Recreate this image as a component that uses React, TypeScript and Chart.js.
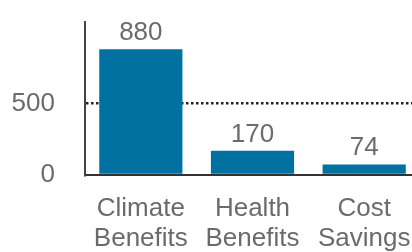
import React, { useEffect, useRef } from "react";
import { Chart, registerables } from "chart.js";

Chart.register(...registerables);

const categories: string[][] = [["Climate", "Benefits"], ["Health", "Benefits"], ["Cost", "Savings"]];
const values: number[] = [880, 170, 74];
const yTicks: number[] = [0, 500];
const refLineValue = 500;

const TEXT = "#6b6b6b";
const BAR = "#0071a0";
const FONT = "'Liberation Sans', Arial, sans-serif";

const labelPlugin = {
  id: "valueLabels",
  afterDatasetsDraw(chart: any) {
    const ctx = chart.ctx;
    const meta = chart.getDatasetMeta(0);
    ctx.save();
    ctx.font = `26px ${FONT}`;
    ctx.fillStyle = TEXT;
    ctx.textAlign = "center";
    ctx.textBaseline = "alphabetic";
    meta.data.forEach((bar: any, i: number) => {
      ctx.fillText(String(values[i]), bar.x, bar.y - 9);
    });
    ctx.restore();
  },
};

export default function App() {
  const ref = useRef<HTMLCanvasElement | null>(null);
  useEffect(() => {
    if (!ref.current) return;
    const chart = new Chart(ref.current, {
      type: "bar",
      data: {
        labels: categories,
        datasets: [
          {
            data: values,
            backgroundColor: BAR,
            categoryPercentage: 0.745,
            barPercentage: 1,
          },
        ],
      },
      options: {
        animation: false,
        responsive: false,
        layout: { padding: { top: 22, left: 0, right: 0, bottom: 0 } },
        plugins: { legend: { display: false }, tooltip: { enabled: false } },
        scales: {
          x: {
            grid: { display: false, drawTicks: false },
            border: { display: true, color: "#333", width: 2 },
            ticks: {
              color: TEXT,
              font: { family: FONT, size: 26, lineHeight: 1.15 },
              padding: 19,
              maxRotation: 0,
              autoSkip: false,
            },
            afterFit(scale: any) {
              scale.height = 77;
              scale.paddingLeft = 0;
              scale.paddingRight = 0;
            },
          },
          y: {
            min: 0,
            max: 1070,
            afterBuildTicks(scale: any) {
              scale.ticks = yTicks.map((v) => ({ value: v }));
            },
            grid: {
              drawTicks: false,
              color: (c: any) => (c.tick && c.tick.value === refLineValue ? "#222" : "rgba(0,0,0,0)"),
              lineWidth: 2.5,
            },
            border: { display: true, color: "#444", width: 2, dash: [2.5, 2.5] },
            ticks: {
              color: TEXT,
              font: { family: FONT, size: 26 },
              padding: 30,
            },
            afterFit(scale: any) {
              scale.width = 85;
              scale.paddingTop = 0;
              scale.paddingBottom = 0;
            },
          },
        },
      },
      plugins: [labelPlugin],
    });
    return () => chart.destroy();
  }, []);
  return (
    <div style={{ position: "fixed", left: 0, top: 0, width: 412, height: 252, overflow: "hidden", background: "#fff" }}>
      <canvas ref={ref} width={420} height={252} style={{ display: "block" }} />
    </div>
  );
}
